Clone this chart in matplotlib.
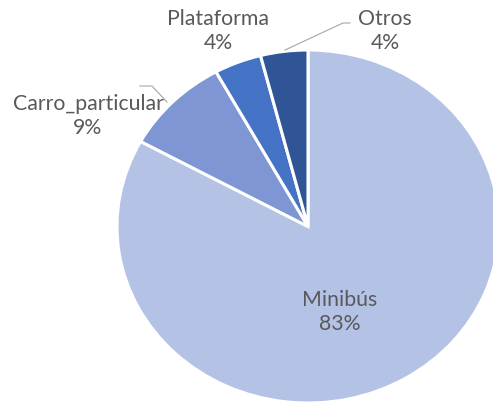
import matplotlib
matplotlib.use("Agg")
import matplotlib.pyplot as plt

labels = ["Minibús", "Carro_particular", "Plataforma", "Otros"]
values = [83, 9, 4, 4]
colors = ["#b4c2e6", "#7f96d4", "#4472c4", "#2f5597"]

plt.rcParams['font.family'] = ['Lato', 'DejaVu Sans']

fig = plt.figure(figsize=(4.93, 4.05), dpi=100)
ax = fig.add_axes([117/493, 2/405, 382/493, 353/405])

wedges, _ = ax.pie(values, colors=colors, startangle=90, counterclock=False,
                   wedgeprops=dict(edgecolor="white", linewidth=2.2))
ax.set_aspect("auto")
ax.set_xlim(-1, 1)
ax.set_ylim(-1, 1)
ax.axis("off")

# label placement (data coords of the stretched pie)
label_pos = {
    "Minibús": (0.168, -0.484),
    "Carro_particular": (-1.152, 0.626),
    "Plataforma": (-0.471, 1.108),
    "Otros": (0.403, 1.108),
}
for lab, v in zip(labels, values):
    x, y = label_pos[lab]
    ax.text(x, y, "{}\n{}%".format(lab, v), ha="center", va="center",
            fontsize=15.3, color="#595959", linespacing=1.25, clip_on=False)

# leader lines
ax.plot([-0.120, 0.183, 0.220], [1.0, 1.153, 1.153], color="#a6a6a6", lw=0.8, clip_on=False)
ax.plot([-0.88, -0.817, -0.738], [0.796, 0.796, 0.705], color="#a6a6a6", lw=0.8, clip_on=False)

fig.savefig("out.png", dpi=100)
